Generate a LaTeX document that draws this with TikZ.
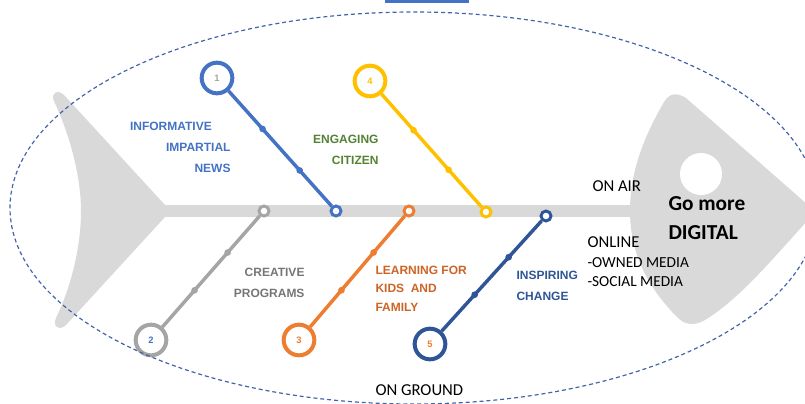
\documentclass[tikz,border=0pt]{standalone}
\usepackage{fontspec}
\setmainfont{Carlito}
\newfontfamily\labelfont{Liberation Sans}
\definecolor{fishgray}{RGB}{217,217,217}
\definecolor{ribblue}{RGB}{68,114,196}
\definecolor{ribgray}{RGB}{165,165,165}
\definecolor{riborange}{RGB}{237,125,49}
\definecolor{ribyellow}{RGB}{255,192,0}
\definecolor{ribnavy}{RGB}{47,85,151}
\definecolor{textgreen}{RGB}{84,130,53}
\definecolor{textorange}{RGB}{205,100,38}
\definecolor{textgray}{RGB}{118,118,118}
\definecolor{outlineblue}{RGB}{68,100,170}
\tikzset{every picture/.style={line width=0.75pt}}
\tikzset{
  bone/.style={line width=2.6pt},
  bigring/.style={circle, draw, fill=white, line width=3pt, minimum size=23pt, inner sep=0pt, font=\labelfont\bfseries\fontsize{7}{8}\selectfont},
  joint/.style={circle, draw, fill=white, line width=2.2pt, minimum size=7.5pt, inner sep=0pt},
  knot/.style={circle, fill, minimum size=5pt, inner sep=0pt},
  causetext/.style={inner sep=0pt, font=\labelfont\bfseries\fontsize{9}{15.75}\selectfont},
  plaintext/.style={inner sep=0pt, font=\fontsize{12.5}{15}\selectfont},
}

\begin{document}
\begin{tikzpicture}[x=0.75pt,y=0.75pt,yscale=-1,xscale=1]
\useasboundingbox (0,0) rectangle (805,403);

%Rectangle: top bar
\fill [ribblue] (385,0) rectangle (469,3);

%Shape: tail
\fill [fishgray] (165,205) -- (64,95) .. controls (58,89) and (50,93) .. (54,101) .. controls (72,140) and (81,180) .. (81,211) .. controls (81,245) and (72,285) .. (56,318) .. controls (52,327) and (60,331) .. (66,325) -- (165,217) -- cycle ;
%Shape: spine
\fill [fishgray] (160,205) rectangle (645,217) ;
%Shape: head
\fill [fishgray] (664,102) .. controls (670,92) and (678,93) .. (686,98) -- (808,205) .. controls (812,209) and (812,216) .. (808,220) .. controls (770,262) and (738,300) .. (705,320) .. controls (695,326) and (685,325) .. (678,318) .. controls (645,285) and (630,250) .. (630,211) .. controls (630,170) and (645,135) .. (664,102) -- cycle ;
%Shape: eye
\fill [white] (701,174) circle [radius=21] ;

%Bone 1
\node [bigring, draw=ribblue, text=ribgray] (n1) at (217,78) {1};
\node [joint, draw=ribblue] (j1) at (336,211) {};
\draw [bone, ribblue] (n1) -- node [knot, pos=0.33] (k1a) {} node [knot, pos=0.69] (k1b) {} (j1) ;
%Bone 2
\node [bigring, draw=ribgray, text=ribblue] (n2) at (151,340) {2};
\node [joint, draw=ribgray] (j2) at (264,211) {};
\draw [bone, ribgray] (n2) -- node [knot, pos=0.33] (k2a) {} node [knot, pos=0.67] (k2b) {} (j2) ;
%Bone 3
\node [bigring, draw=riborange, text=riborange] (n3) at (299,340) {3};
\node [joint, draw=riborange] (j3) at (409,211) {};
\draw [bone, riborange] (n3) -- node [knot, pos=0.33] (k3a) {} node [knot, pos=0.67] (k3b) {} (j3) ;
%Bone 4
\node [bigring, draw=ribyellow, text=ribyellow] (n4) at (370,81) {4};
\node [joint, draw=ribyellow] (j4) at (486,212) {};
\draw [bone, ribyellow] (n4) -- node [knot, pos=0.32] (k4a) {} node [knot, pos=0.67] (k4b) {} (j4) ;
%Bone 5
\node [bigring, draw=ribnavy, text=riborange] (n5) at (430,344) {5};
\node [joint, draw=ribnavy] (j5) at (546,216) {};
\draw [bone, ribnavy] (n5) -- node [knot, pos=0.33] (k5a) {} node [knot, pos=0.67] (k5b) {} (j5) ;

% Text Node
\node [causetext, text=ribblue, align=right, anchor=east] (t1) at (231,147) {INFORMATIVE\hspace*{14pt}\\IMPARTIAL\\NEWS};
% Text Node
\node [causetext, text=textgreen, align=right, anchor=east] (t4) at (379,149.5) {ENGAGING\\CITIZEN};
% Text Node
\node [causetext, text=textgray, align=right, anchor=east] (t2) at (305,282.5) {CREATIVE\\PROGRAMS};
% Text Node
\node [causetext, text=textorange, align=left, anchor=west, font=\labelfont\bfseries\fontsize{9}{13.9}\selectfont] (t3) at (375,288.5) {LEARNING FOR\\KIDS\ \ AND\\FAMILY};
% Text Node
\node [causetext, text=ribnavy, align=left, anchor=west] (t5) at (516,285.5) {INSPIRING\\CHANGE};

% Text Node
\node [inner sep=0pt, align=left, anchor=west, font=\bfseries\fontsize{16}{21.75}\selectfont] (goal) at (668,218.5) {Go more\\DIGITAL};
% Text Node
\node [plaintext, anchor=west] (air) at (592,186) {ON AIR};
% Text Node
\node [inner sep=0pt, align=left, anchor=west, font=\fontsize{11.5}{14.6}\selectfont] (online) at (587,262) {{\fontsize{12.5}{14.6}\selectfont ONLINE}\\-OWNED MEDIA\\-SOCIAL MEDIA};
% Text Node
\node [plaintext, anchor=west] (ground) at (375,390) {ON GROUND};

%Shape: dashed outline
\draw [outlineblue, line width=0.9pt, dash pattern=on 3pt off 2.2pt] (414,208) ellipse [x radius=404, y radius=196] ;

\end{tikzpicture}
\end{document}
